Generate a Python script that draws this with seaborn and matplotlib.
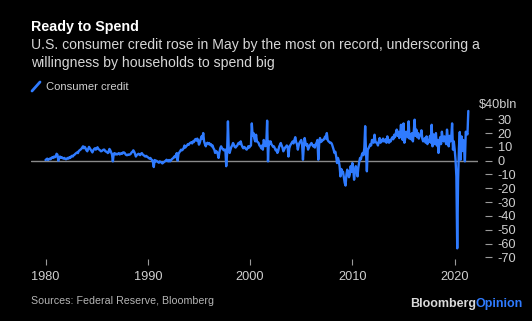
import numpy as np
import pandas as pd
import matplotlib
matplotlib.use("Agg")
import matplotlib.pyplot as plt
from matplotlib.lines import Line2D
import seaborn as sns

# Monthly change in U.S. consumer credit, $bln, Jan 1980 - May 2021
years = list(range(1980, 2022))
credit_by_year = {
    1980: [0.5, 1.0, 1.5, 0.5, 1.0, 1.5, 1.0, 2.0, 2.5, 2.0, 3.0, 2.5],
    1981: [3.0, 5.0, 4.3, 0.0, 2.5, 3.0, 2.0, 2.5, 2.0, 1.5, 2.0, 1.5],
    1982: [1.0, 1.5, 2.0, 1.5, 2.5, 2.0, 3.0, 3.5, 3.0, 4.0, 4.3, 5.0],
    1983: [5.5, 6.0, 5.5, 7.0, 7.5, 8.0, 8.5, 9.5, 10.4, 9.0, 10.0, 9.0],
    1984: [7.5, 6.8, 8.5, 10.0, 9.0, 8.0, 7.0, 6.0, 7.5, 8.5, 9.0, 8.0],
    1985: [9.0, 9.7, 8.5, 8.0, 7.5, 6.8, 7.0, 7.5, 8.0, 8.0, 7.0, 6.5],
    1986: [6.5, 5.5, 6.0, 8.5, 7.5, 6.0, 4.5, -0.5, 5.0, 5.5, 4.5, 5.0],
    1987: [4.5, 5.0, 5.5, 4.5, 5.0, 5.5, 5.0, 6.0, 6.0, 5.5, 4.5, 4.0],
    1988: [4.0, 4.5, 4.3, 4.5, 5.0, 6.0, 6.5, 7.5, 6.5, 5.0, 3.0, 4.0],
    1989: [4.5, 5.0, 4.5, 4.0, 5.0, 5.5, 4.5, 4.0, 3.5, 3.0, 3.5, 3.0],
    1990: [2.5, 2.0, 1.5, 2.0, 1.0, 0.5, -1.0, -4.6, 0.5, -0.5, 0.0, -0.5],
    1991: [-1.0, -1.5, -0.5, -1.0, -1.2, -2.0, -1.5, -1.0, -0.5, 0.0, 0.7, 0.0],
    1992: [-0.5, 0.5, -0.5, 0.0, 1.0, 1.5, 2.0, 3.0, 2.5, 4.0, 5.5, 0.0],
    1993: [5.0, 6.0, 7.0, 8.0, 7.5, 8.0, 9.0, 11.0, 9.5, 10.4, 11.0, 12.0],
    1994: [11.5, 12.5, 13.0, 13.3, 12.5, 14.0, 13.5, 15.0, 15.7, 14.5, 16.0, 15.0],
    1995: [11.6, 13.0, 15.5, 17.6, 16.0, 20.0, 14.0, 12.0, 10.4, 12.5, 13.0, 12.0],
    1996: [12.8, 11.5, 12.0, 10.4, 11.0, 9.0, 8.0, 5.6, 7.0, 6.5, 5.0, 2.0],
    1997: [6.0, 9.0, 10.4, 9.0, 8.5, 7.5, 8.0, 8.0, -4.0, 5.0, 28.5, 7.0],
    1998: [5.6, 8.0, 10.0, 11.0, 12.8, 11.5, 10.0, 9.5, 10.4, 11.0, 12.5, 13.0],
    1999: [12.0, 14.0, 11.5, 10.0, 9.0, 10.0, 9.5, 8.5, 8.0, 9.0, 10.5, 9.5],
    2000: [10.4, 11.0, 27.0, 18.0, 20.0, 16.0, 14.0, 18.8, 14.0, 13.5, 12.8, 11.0],
    2001: [10.5, 9.0, 11.0, 8.0, 15.0, 13.0, 10.5, 12.0, 29.0, -0.5, 14.0, 12.0],
    2002: [14.0, 12.0, 11.0, 10.0, 10.4, 9.0, 7.5, 8.0, 5.6, 7.0, 10.0, 11.5],
    2003: [12.8, 11.0, 9.5, 6.8, 8.0, 9.5, 10.0, 11.0, 10.4, 3.0, 9.0, 11.0],
    2004: [12.0, 13.0, 14.0, 12.5, 15.0, 17.0, 13.5, 12.0, 8.0, 11.0, 13.0, 14.0],
    2005: [15.0, 12.0, 0.7, 10.0, 16.4, 13.0, 11.0, 12.0, 8.0, 9.5, 11.0, 12.0],
    2006: [12.8, 11.5, 10.4, 11.0, 9.5, 12.0, 13.0, 15.0, 0.7, 12.0, 16.4, 13.5],
    2007: [14.0, 15.0, 15.0, 16.0, 17.5, 16.0, 20.0, 15.0, 14.0, 13.5, 12.8, 13.0],
    2008: [12.0, 10.0, 8.0, 5.6, 6.5, 3.0, -1.7, 2.0, 0.0, -4.0, -11.4, -6.0],
    2009: [-9.0, -8.0, -12.0, -16.0, -18.0, -10.0, -6.5, -9.0, -12.0, -10.0, -4.0, -8.0],
    2010: [-1.7, -6.0, -13.8, -8.0, -4.0, -6.0, -11.4, -5.0, -1.0, 2.0, 1.0, 4.0],
    2011: [5.6, 4.0, 9.0, 25.0, 6.0, -7.7, 8.0, 9.0, 10.4, 12.0, 11.0, 15.0],
    2012: [15.0, 13.0, 18.8, 14.0, 13.0, 12.8, 11.0, 14.0, 16.4, 13.0, 15.0, 14.0],
    2013: [16.0, 14.0, 14.0, 15.5, 13.0, 17.6, 15.0, 13.0, 15.0, 14.0, 16.0, 17.0],
    2014: [15.5, 18.8, 17.0, 20.0, 22.5, 18.0, 21.0, 16.4, 19.0, 26.0, 17.0, 15.0],
    2015: [27.0, 13.0, 16.0, 21.0, 20.0, 17.0, 28.5, 16.0, 19.0, 15.5, 20.0, 14.0],
    2016: [21.0, 29.7, 18.0, 22.5, 17.0, 20.0, 16.0, 18.0, 18.8, 22.0, 16.0, 14.0],
    2017: [15.0, 16.4, 13.0, 17.6, 12.0, 15.0, 14.0, 18.0, 13.0, 26.0, 10.4, 19.0],
    2018: [12.0, 14.0, 20.0, 11.0, 15.0, 5.6, 13.0, 17.0, 12.0, 21.0, 16.0, 14.0],
    2019: [17.6, 15.0, 12.0, 22.5, 16.0, 10.4, 18.0, 14.0, 17.0, 27.0, 8.0, 14.0],
    2020: [8.0, 0.7, -11.4, -63.5, -14.0, 9.0, 20.8, 0.7, 17.6, 7.0, 15.0, 10.0],
    2021: [-0.5, 21.0, 20.0, 19.0, 36.0],
}

y_ticks = [-70, -60, -50, -40, -30, -20, -10, 0, 10, 20, 30]
y_tick_labels = ["-70", "-60", "-50", "-40", "-30", "-20", "-10", "0", "10", "20", "30"]
y_unit_value = 40
y_unit_label = "$40bln"
x_ticks = [1980, 1990, 2000, 2010, 2020]
x_tick_labels = ["1980", "1990", "2000", "2010", "2020"]

rows = []
for yr in years:
    for m, v in enumerate(credit_by_year[yr]):
        rows.append({"t": yr + m / 12.0, "credit": v})
df = pd.DataFrame(rows)

sns.set_theme(style="dark")
plt.rcParams["font.family"] = ["Liberation Sans", "DejaVu Sans"]

BG = "#000000"
BLUE = "#2f7bff"
GRAY_TXT = "#cfcfcf"

fig = plt.figure(figsize=(5.32, 3.21), dpi=100, facecolor=BG)
ax = fig.add_axes([31.2 / 532, 1 - 258.7 / 321, (478.2 - 31.2) / 532, (258.7 - 102.7) / 321])
ax.set_facecolor(BG)

ax.axhline(0, color="#8a8a8a", lw=1.0, zorder=1)
sns.lineplot(data=df, x="t", y="credit", ax=ax, color=BLUE, lw=1.7, zorder=3)

ax.set_xlim(1978.6, 2022.3)
ax.set_ylim(-71, 42)
ax.grid(False)
for s in ax.spines.values():
    s.set_visible(False)

ax.yaxis.tick_right()
ax.spines["right"].set_position(("outward", 5))
ax.set_yticks(y_ticks)
ax.set_yticklabels(y_tick_labels)
ax.tick_params(axis="y", which="major", direction="out", length=5, width=0.8,
               color="#9a9a9a", labelcolor=GRAY_TXT, labelsize=9.2, pad=4, right=True, left=False)
for lab in ax.get_yticklabels():
    lab.set_horizontalalignment("left")

# unit label at the top tick position (no tick mark)
ax.annotate(y_unit_label, xy=(1.0, y_unit_value), xycoords=("axes fraction", "data"),
            xytext=(39, 0), textcoords="offset pixels", ha="right", va="center",
            color=GRAY_TXT, fontsize=9.2, annotation_clip=False)

ax.set_xticks(x_ticks)
ax.set_xticklabels(x_tick_labels)
ax.tick_params(axis="x", which="major", direction="out", length=4, width=0.8,
               color="#9a9a9a", labelcolor=GRAY_TXT, labelsize=9.2, pad=4.5, bottom=True)
ax.set_xlabel("")
ax.set_ylabel("")

# Titles
fig.text(31 / 532, 1 - 27 / 321, "Ready to Spend", color="white", fontsize=10.3,
         fontweight="bold", va="center", ha="left")
fig.text(31 / 532, 1 - 45.5 / 321, "U.S. consumer credit rose in May by the most on record, underscoring a",
         color="#d6d6d6", fontsize=10.05, va="center", ha="left")
fig.text(31 / 532, 1 - 62.5 / 321, "willingness by households to spend big",
         color="#d6d6d6", fontsize=10.05, va="center", ha="left")

# Legend
fig.add_artist(Line2D([32 / 532, 40 / 532], [1 - 91 / 321, 1 - 82 / 321], color=BLUE, lw=2.0,
                      transform=fig.transFigure))
fig.text(46.5 / 532, 1 - 86.5 / 321, "Consumer credit", color=GRAY_TXT, fontsize=8.1, va="center", ha="left")

# Footer
fig.text(31 / 532, 1 - 301 / 321, "Sources: Federal Reserve, Bloomberg", color="#b5b5b5",
         fontsize=7.7, va="center", ha="left")
t1 = fig.text(410 / 532, 1 - 304.5 / 321, "Bloomberg", color="#d9d9d9", fontsize=9,
              fontweight="bold", va="center", ha="left")
fig.canvas.draw()
bb = t1.get_window_extent()
fig.text(bb.x1 / fig.bbox.width, 1 - 304.5 / 321, "Opinion", color=BLUE, fontsize=9,
         fontweight="bold", va="center", ha="left")

fig.savefig("out.png", dpi=100, facecolor=BG)
